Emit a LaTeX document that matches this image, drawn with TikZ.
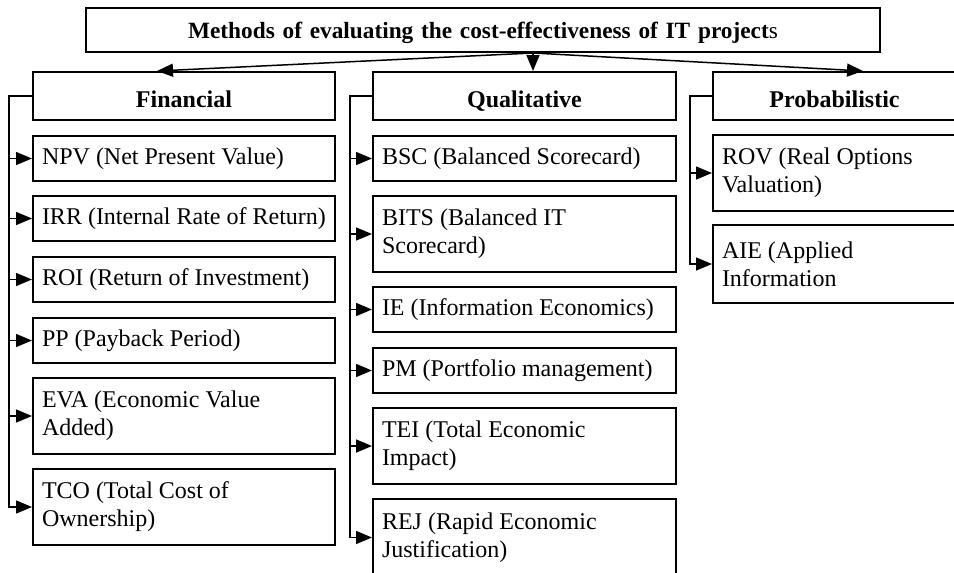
\documentclass[tikz,border=0pt]{standalone}
\usepackage{fontspec}
\setmainfont{Liberation Serif}
\usetikzlibrary{arrows.meta,calc}
\newcommand{\bodysize}{\fontsize{24}{28}\selectfont\hyphenpenalty=10000\relax}
\begin{document}
\begin{tikzpicture}[x=1pt,y=-1pt,
  boxbase/.style={draw, line width=2pt, inner xsep=9pt, inner ysep=0pt, anchor=north west},
  item/.style={boxbase, align=flush left, minimum height=45pt, font=\bodysize},
  tall/.style={minimum height=76pt},
  cat/.style={boxbase, align=center, minimum height=48pt, text height=22pt, text depth=0pt,
              font=\bodysize\bfseries},
  fincol/.style={text width=284pt},
  qualcol/.style={text width=285pt},
  probcol/.style={text width=225pt},
  conn/.style={line width=1.5pt},
  arr/.style={conn, -{Triangle[length=16pt,width=13pt]}}]
\useasboundingbox (0,0) rectangle (954,573);

% heading
\node[boxbase, align=center, text width=776pt, minimum height=44pt,
      text height=19pt, text depth=3pt,
      font=\fontsize{23.3}{27}\selectfont\bfseries] (title) at (85,7)
  {Methods of evaluating the cost-effectiveness of IT project\textmd{s}};

% groups
\node[cat, fincol]  (fin)  at (32,71)  {Financial};
\node[cat, qualcol] (qual) at (372,71) {Qualitative};
\node[cat, probcol] (prob) at (712,71) {Probabilistic};

% financial methods
\node[item, fincol]       (npv) at (32,135) {\mbox{NPV (Net Present Value)}};
\node[item, fincol]       (irr) at (32,195) {\mbox{IRR (Internal Rate of Return)}};
\node[item, fincol]       (roi) at (32,256) {\mbox{ROI (Return of Investment)}};
\node[item, fincol]       (pp)  at (32,317) {\mbox{PP (Payback Period)}};
\node[item, fincol, tall] (eva) at (32,377) {EVA (Economic Value\\Added)};
\node[item, fincol, tall] (tco) at (32,468) {TCO (Total Cost of\\Ownership)};

% qualitative methods
\node[item, qualcol]       (bsc)  at (372,135) {\mbox{BSC (Balanced Scorecard)}};
\node[item, qualcol, tall] (bits) at (372,195) {BITS (Balanced IT\\Scorecard)};
\node[item, qualcol]       (ie)   at (372,286) {\mbox{IE (Information Economics)}};
\node[item, qualcol]       (pm)   at (372,347) {\mbox{PM (Portfolio management)}};
\node[item, qualcol, tall] (tei)  at (372,407) {TEI (Total Economic\\Impact)};
\node[item, qualcol, minimum height=77pt] (rej) at (372,498) {REJ (Rapid Economic\\Justification)};

% probabilistic methods
\node[item, probcol, tall] (rov) at (712,134) {ROV (Real Options\\Valuation)};
\node[item, probcol, minimum height=78pt] (aie) at (712,224) {AIE (Applied\\Information};

% heading to groups
\coordinate (src) at ($(title.south west)+(448,0)$);
\draw[arr] (src) -- ($(fin.north west)+(125,0)$);
\draw[arr] (src) -- ($(qual.north west)+(161,0)$);
\draw[arr] (src) -- ($(prob.north west)+(151,0)$);

% financial bus
\coordinate (fb) at ($(fin.west)+(-23,0)$);
\draw[arr] (fin.west) -- (fb) |- (tco.west);
\foreach \n in {npv,irr,roi,pp,eva} \draw[arr] (fb |- \n.west) -- (\n.west);

% qualitative bus
\coordinate (qb) at ($(qual.west)+(-22,0)$);
\draw[arr] (qual.west) -- (qb) |- (rej.west);
\foreach \n in {bsc,bits,ie,pm,tei} \draw[arr] (qb |- \n.west) -- (\n.west);

% probabilistic bus
\coordinate (pb) at ($(prob.west)+(-22,0)$);
\draw[arr] (prob.west) -- (pb) |- (aie.west);
\draw[arr] (pb |- rov.west) -- (rov.west);
\end{tikzpicture}
\end{document}
